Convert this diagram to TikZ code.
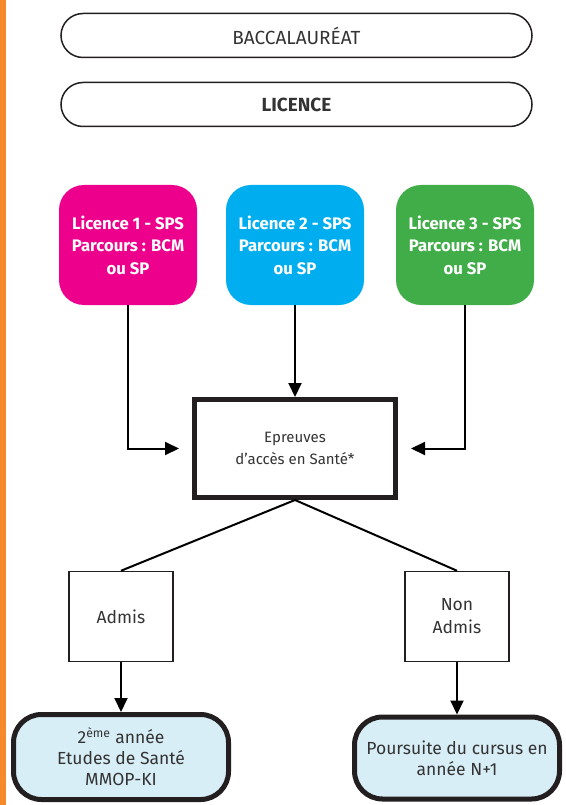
\documentclass[tikz,border=0pt]{standalone}
\usepackage{fontspec}
\setmainfont{Fira Sans}
\usetikzlibrary{arrows.meta}
\usetikzlibrary{positioning,calc}
\definecolor{orangebar}{HTML}{F58A2A}
\definecolor{rose}{HTML}{EC008C}
\definecolor{bleu}{HTML}{00AEEF}
\definecolor{vert}{HTML}{41AD49}
\definecolor{ciel}{HTML}{D8EEF6}
\definecolor{texte}{HTML}{333333}
\definecolor{trait}{HTML}{231F20}

\begin{document}
\begin{tikzpicture}[x=1pt,y=-1pt]
	\useasboundingbox (0,0) rectangle (565,805);
	\fill[orangebar] (0,0) rectangle (6,805);

	\begin{scope}[every node/.style={draw=trait,line width=1.5pt,rounded corners=22pt,minimum width=471pt,minimum height=44pt,text=texte,font=\fontsize{19}{22}\selectfont}]
		\node (bac) at (296.5,35.5) {BACCALAURÉAT};
		\node (licence) at (296.5,104.5) {\bfseries LICENCE};
	\end{scope}

	\begin{scope}[every node/.style={rounded corners=25pt,minimum width=138pt,minimum height=120pt,inner sep=0pt,text=white,align=center,font=\bfseries\fontsize{16.7}{22.5}\selectfont}]
		\node [fill=rose] (lic1) at (128,245) {Licence 1 - SPS\\Parcours : BCM\\ou SP};
		\node [fill=bleu] (lic2) at (295,245) {Licence 2 - SPS\\Parcours : BCM\\ou SP};
		\node [fill=vert] (lic3) at (465,245) {Licence 3 - SPS\\Parcours : BCM\\ou SP};
	\end{scope}

	\begin{scope}[every node/.style={draw=trait,text=texte,align=center,font=\fontsize{17.5}{21}\selectfont}]
		\node [line width=5pt,minimum width=201pt,minimum height=98pt,font=\fontsize{15}{22}\selectfont] (epreuves) at (295,448.5) {Epreuves\\d’accès en Santé*};
		\node [line width=1.5pt,minimum width=104pt,minimum height=90pt] (admis) at (121,616.5) {Admis};
		\node [line width=1.5pt,minimum width=104pt,minimum height=90pt,font=\fontsize{17.5}{23}\selectfont] (nonadmis) at (457,616.5) {Non\\Admis};
		\node [fill=ciel,line width=5pt,rounded corners=28pt,minimum width=215pt,minimum height=85pt] (res1) at (121,757) {2\textsuperscript{ème} année\\Etudes de Santé\\MMOP-KI};
		\node [fill=ciel,line width=5pt,rounded corners=28pt,minimum width=205pt,minimum height=82pt] (res2) at (457,758) {Poursuite du cursus en\\année N+1};
	\end{scope}

	\begin{scope}[>={Triangle[length=14pt,width=13pt]},line width=2pt]
		\draw[->,shorten >=13pt] (lic1) |- (epreuves);
		\draw[->,shorten >=13pt] (lic3) |- (epreuves);
		\path[->] (lic2) edge (epreuves);
		\path (epreuves.south) edge (admis.north);
		\path (epreuves.south) edge (nonadmis.north);
		\path[->] (admis) edge (res1);
		\path[->] (nonadmis) edge (res2);
	\end{scope}
\end{tikzpicture}
\end{document}
